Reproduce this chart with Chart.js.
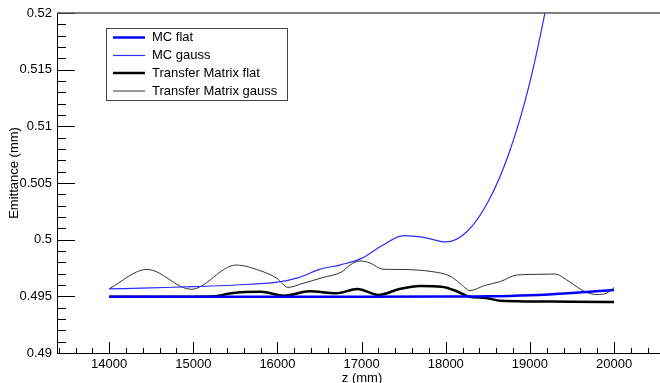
<!DOCTYPE html>
<html>
<head>
<meta charset="utf-8">
<script src="https://cdn.jsdelivr.net/npm/chart.js@4/dist/chart.umd.min.js"></script>
<style>
  body { margin: 0; background: #fff; }
  canvas { display: block; }
</style>
</head>
<body>
<canvas id="emitChart" width="660" height="383"></canvas>
<script>
// series, z in mm, emittance in mm
const mcFlatZ = [14000, 15000, 16000, 17000, 18000, 18500, 19000, 19500, 20000];
const mcFlat = [0.49497, 0.49497, 0.49497, 0.49497, 0.49498, 0.49500, 0.49510, 0.49530, 0.49556];

const mcGaussZ = [14000, 14500, 15000, 15500, 16000, 16250, 16500, 16750, 17000, 17250, 17500, 17750, 18000, 18250, 18500, 18750, 19000, 19250, 19500, 20000];
const mcGauss = [0.49565, 0.49575, 0.49585, 0.49600, 0.49625, 0.49665, 0.49738, 0.49778, 0.49835, 0.49950, 0.50035, 0.50018, 0.49980, 0.50070, 0.50330, 0.50760, 0.51390, 0.52280, 0.5340, 0.5650];

const tmFlatZ = [14000, 14500, 15000, 15250, 15450, 15800, 16080, 16380, 16700, 16950, 17200, 17450, 17700, 17950, 18130, 18280, 18480, 18650, 19000, 19500, 20000];
const tmFlat = [0.49497, 0.49497, 0.49497, 0.49500, 0.49527, 0.49540, 0.49506, 0.49544, 0.49527, 0.49565, 0.49512, 0.49565, 0.49591, 0.49585, 0.49545, 0.49497, 0.49485, 0.49460, 0.49455, 0.49452, 0.49450];

const tmGaussZ = [14000, 14451, 14974, 15508, 15829, 15995, 16126, 16304, 16541, 16767, 16862, 16981, 17100, 17254, 17456, 17848, 18050, 18168, 18287, 18465, 18643, 18845, 19083, 19297, 19439, 19653, 19795, 19914, 20000];
const tmGauss = [0.49567, 0.49738, 0.49562, 0.49776, 0.49717, 0.49659, 0.49579, 0.49615, 0.49666, 0.49717, 0.49776, 0.49812, 0.49794, 0.49739, 0.49737, 0.49717, 0.49679, 0.49615, 0.49551, 0.49596, 0.49629, 0.49688, 0.49694, 0.49697, 0.49644, 0.49541, 0.49516, 0.49529, 0.49578];

const xTickLabels = [14000, 15000, 16000, 17000, 18000, 19000, 20000];
const yTickLabels = [0.49, 0.495, 0.5, 0.505, 0.51, 0.515, 0.52];

function pts(zs, ys) {
  return zs.map((z, i) => ({ x: z, y: ys[i] }));
}

Chart.defaults.font.family = "'Liberation Sans', Arial, sans-serif";
Chart.defaults.font.size = 13;
Chart.defaults.color = '#000';

const series = [
  { label: 'MC flat', data: pts(mcFlatZ, mcFlat), borderColor: '#0000ff', borderWidth: 2.5 },
  { label: 'MC gauss', data: pts(mcGaussZ, mcGauss), borderColor: '#2b2bff', borderWidth: 1.2 },
  { label: 'Transfer Matrix flat', data: pts(tmFlatZ, tmFlat), borderColor: '#000000', borderWidth: 2.5 },
  { label: 'Transfer Matrix gauss', data: pts(tmGaussZ, tmGauss), borderColor: '#333333', borderWidth: 1 }
];

// ROOT style frame: inward ticks, top line, axis titles and boxed legend
const rootFrame = {
  id: 'rootFrame',
  afterDraw(chart) {
    const ctx = chart.ctx;
    const a = chart.chartArea;
    const xs = chart.scales.x, ys = chart.scales.y;
    ctx.save();

    ctx.strokeStyle = '#000';
    ctx.lineWidth = 1;
    ctx.beginPath();
    for (let z = 13400; z <= 20600; z += 200) {
      const px = Math.round(xs.getPixelForValue(z)) + 0.5;
      if (px < a.left || px > a.right) continue;
      const len = z % 1000 === 0 ? 11 : 5;
      ctx.moveTo(px, a.bottom);
      ctx.lineTo(px, a.bottom - len);
    }
    for (let k = 0; k <= 30; k++) {
      const v = 0.49 + k * 0.001;
      const py = Math.round(ys.getPixelForValue(v)) + 0.5;
      const len = k % 5 === 0 ? 18 : 9;
      ctx.moveTo(a.left, py);
      ctx.lineTo(a.left + len, py);
    }
    ctx.stroke();

    ctx.strokeStyle = '#555';
    ctx.lineWidth = 1.5;
    ctx.beginPath();
    ctx.moveTo(a.left, a.top);
    ctx.lineTo(a.right, a.top);
    ctx.stroke();

    ctx.fillStyle = '#000';
    ctx.font = "13px 'Liberation Sans', Arial, sans-serif";
    ctx.textAlign = 'center';
    ctx.textBaseline = 'middle';
    ctx.fillText('z (mm)', 362, 378);
    ctx.save();
    ctx.translate(14, 173);
    ctx.rotate(-Math.PI / 2);
    ctx.fillText('Emittance (mm)', 0, 0);
    ctx.restore();

    // legend
    ctx.fillStyle = '#fff';
    ctx.fillRect(106, 28, 181, 72);
    ctx.strokeStyle = '#444';
    ctx.lineWidth = 1;
    ctx.strokeRect(106.5, 28.5, 181, 72);
    const rows = [37.5, 55.5, 73, 91];
    ctx.textAlign = 'left';
    chart.data.datasets.forEach((ds, i) => {
      ctx.strokeStyle = ds.borderColor;
      ctx.lineWidth = ds.borderWidth;
      ctx.beginPath();
      ctx.moveTo(113, rows[i]);
      ctx.lineTo(145, rows[i]);
      ctx.stroke();
      ctx.fillStyle = '#000';
      ctx.fillText(ds.label, 152, rows[i]);
    });
    ctx.restore();
  }
};

new Chart(document.getElementById('emitChart'), {
  type: 'line',
  data: {
    datasets: series.map(s => Object.assign({
      fill: false,
      pointRadius: 0,
      cubicInterpolationMode: 'monotone'
    }, s))
  },
  options: {
    responsive: false,
    animation: false,
    layout: { padding: { top: 13, right: 0, left: 0, bottom: 0 } },
    plugins: { legend: { display: false }, tooltip: { enabled: false } },
    scales: {
      x: {
        type: 'linear',
        min: 13380,
        max: 20546,
        grid: { display: false, drawTicks: false },
        border: { display: true, color: '#000', width: 1 },
        afterBuildTicks: s => { s.ticks = xTickLabels.map(v => ({ value: v })); },
        ticks: {
          autoSkip: false,
          maxRotation: 0,
          padding: 4,
          callback: v => String(v)
        },
        afterFit: s => { s.height = 30; }
      },
      y: {
        min: 0.49,
        max: 0.52,
        grid: { display: false, drawTicks: false },
        border: { display: true, color: '#000', width: 1 },
        afterBuildTicks: s => { s.ticks = yTickLabels.map(v => ({ value: v })); },
        ticks: {
          autoSkip: false,
          padding: 5,
          callback: v => String(v)
        },
        afterFit: s => { s.width = 57; }
      }
    }
  },
  plugins: [rootFrame]
});
</script>
</body>
</html>
